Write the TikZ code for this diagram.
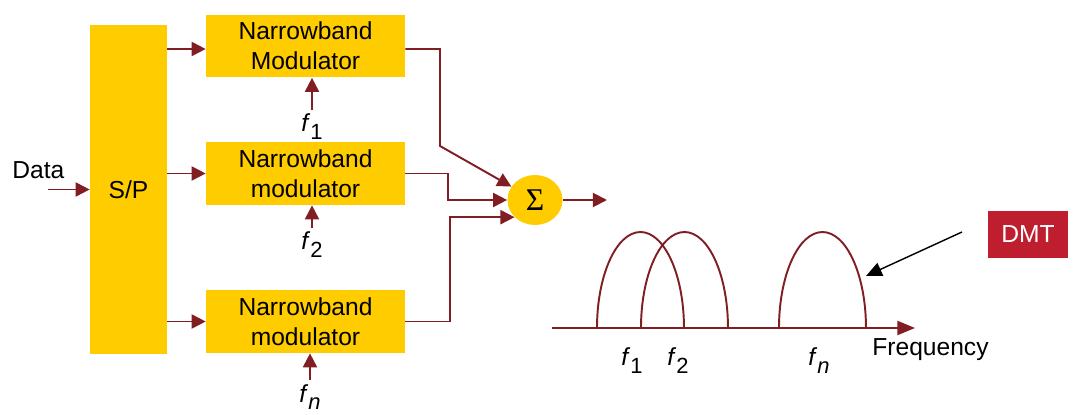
\documentclass[tikz,border=0pt]{standalone}
\usepackage{fontspec}
\setmainfont{Liberation Sans}
\newfontfamily\sigfont{Liberation Serif}
\usetikzlibrary{arrows.meta,positioning,calc,shapes.geometric}
\definecolor{gold}{RGB}{255,204,0}
\definecolor{maroon}{RGB}{128,30,36}
\definecolor{dmtred}{RGB}{190,30,45}
\newcommand{\fsub}[1]{\textit{f}\raisebox{-0.6ex}{\fontsize{12.5}{12.5}\selectfont #1}}

\begin{document}
\begin{tikzpicture}[x=0.02cm,y=-0.02cm,
  every node/.style={font=\fontsize{14}{17}\selectfont},
  blk/.style={fill=gold,inner sep=0pt},
  modbox/.style={blk,minimum width=3.98cm,minimum height=1.26cm,align=center},
  lbl/.style={inner sep=2pt,anchor=base},
  sig/.style={draw=maroon,line width=1.1pt,-{Triangle[length=8pt,width=8pt]}},
  hump/.style={draw=maroon,line width=1.1pt}]
  \useasboundingbox (0,0) rectangle (1076,415);
  % transmitter
  \node[blk,minimum width=1.54cm,minimum height=6.58cm] (sp) at (128.5,189.5) {S/P};
  \node[anchor=base west,inner sep=0pt] (data) at (12,179) {Data};
  \coordinate (din) at (48,189.5);
  \draw[sig] (din) -- (sp.west);
  \node[modbox] (m1) at (305.5,46) {Narrowband\\Modulator};
  \node[modbox] (m2) at (305.5,173.5) {Narrowband\\modulator};
  \node[modbox] (m3) at (305.5,321.5) {Narrowband\\modulator};
  \draw[sig] (sp.east |- 0,49) -- (m1.west |- 0,49);
  \draw[sig] (sp.east |- m2) -- (m2.west);
  \draw[sig] (sp.east |- m3) -- (m3.west);
  \node[lbl] (f1) at (312,132) {\fsub{1}};
  \node[lbl] (f2) at (312,250) {\fsub{2}};
  \node[lbl] (fn) at (310,402) {\fsub{\textit{n}}};
  \draw[sig] (f1.north) -- (f1.north |- m1.south);
  \draw[sig] (f2.north) -- (f2.north |- m2.south);
  \draw[sig] (fn.north) -- (fn.north |- m3.south);
  % adder
  \node[ellipse,fill=gold,inner sep=0pt,minimum width=1.1cm,minimum height=1cm,font=\sigfont\fontsize{18}{18}\selectfont] (sum) at (535,200) {Σ};
  \draw[sig] (m1.east |- 0,49) -- (440,49) -- (440,146) -- (sum);
  \draw[sig] (m2.east) -- (448,173.5) |- (sum.west);
  \draw[sig] (m3.east) -- (450,321.5) |- (sum.220);
  \coordinate (sout) at (607,200);
  \draw[sig] (sum.east) -- (sout);
  % spectrum
  \coordinate (ax0) at (552,328);
  \coordinate (ax1) at (915,328);
  \draw[hump] (597,328) arc[start angle=180,end angle=0,x radius=0.87cm,y radius=1.92cm];
  \draw[hump] (641,328) arc[start angle=180,end angle=0,x radius=0.87cm,y radius=1.92cm];
  \draw[hump] (779,328) arc[start angle=180,end angle=0,x radius=0.87cm,y radius=1.92cm];
  \draw[sig,-{Triangle[length=10pt,width=8pt]}] (ax0) -- (ax1);
  \node[anchor=base west,inner sep=0pt] (freq) at (872,356) {Frequency};
  \node[lbl] (s1) at (632,366) {\fsub{1}};
  \node[lbl] (s2) at (678,366) {\fsub{2}};
  \node[lbl] (sn) at (819,366) {\fsub{\textit{n}}};
  % label
  \node[fill=dmtred,text=white,minimum width=1.6cm,minimum height=0.94cm,inner sep=0pt] (dmt) at (1028,234.5) {DMT};
  \coordinate (dmtp) at (962,232);
  \coordinate (hit) at (866,276);
  \draw[line width=0.8pt,-{Triangle[length=9pt,width=8pt]}] (dmtp) -- (hit);
\end{tikzpicture}
\end{document}
